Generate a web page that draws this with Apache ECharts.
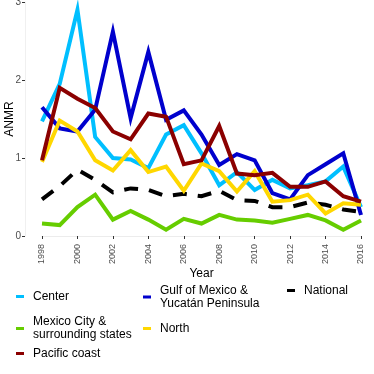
<!DOCTYPE html>
<html>
<head>
<meta charset="utf-8">
<script src="https://cdn.jsdelivr.net/npm/echarts@6/dist/echarts.min.js"></script>
<style>
  html, body { margin: 0; padding: 0; background: #fff; }
  #chart { width: 374px; height: 374px; }
</style>
</head>
<body>
<div id="chart"></div>
<script>
// 年份（横轴）
const years = [1998, 1999, 2000, 2001, 2002, 2003, 2004, 2005, 2006, 2007,
  2008, 2009, 2010, 2011, 2012, 2013, 2014, 2015, 2016];

// 各地区 ANMR 数值
const center = [1.47, 1.95, 2.9, 1.27, 1.0, 0.98, 0.87, 1.3, 1.42, 1.06,
  0.65, 0.82, 0.59, 0.72, 0.61, 0.65, 0.7, 0.89, 0.37];
const gulf = [1.65, 1.38, 1.34, 1.62, 2.62, 1.51, 2.36, 1.49, 1.61, 1.3,
  0.91, 1.05, 0.97, 0.55, 0.47, 0.78, 0.92, 1.06, 0.27];
const national = [0.47, 0.64, 0.85, 0.72, 0.56, 0.61, 0.59, 0.51, 0.54, 0.51,
  0.58, 0.46, 0.45, 0.37, 0.37, 0.43, 0.4, 0.34, 0.31];
const mexicoCity = [0.16, 0.14, 0.37, 0.53, 0.21, 0.32, 0.21, 0.08, 0.22, 0.16,
  0.27, 0.21, 0.2, 0.17, 0.22, 0.27, 0.2, 0.08, 0.2];
const north = [0.95, 1.48, 1.34, 0.97, 0.84, 1.1, 0.82, 0.89, 0.58, 0.93,
  0.83, 0.57, 0.83, 0.44, 0.46, 0.53, 0.29, 0.42, 0.4];
const pacific = [0.97, 1.9, 1.76, 1.64, 1.34, 1.24, 1.57, 1.53, 0.92, 0.97,
  1.41, 0.8, 0.78, 0.81, 0.63, 0.63, 0.7, 0.51, 0.44];

// 纵轴刻度
const yTicks = [0, 1, 2, 3];

const FONT = "Liberation Sans";

const seriesList = [
  { name: "Center", data: center, color: "#00BFFF", type: "solid" },
  { name: "Gulf of Mexico & Yucatán Peninsula", data: gulf, color: "#0000CD", type: "solid" },
  { name: "National", data: national, color: "#000000", type: [14, 11] },
  { name: "Mexico City & surrounding states", data: mexicoCity, color: "#66CD00", type: "solid" },
  { name: "North", data: north, color: "#FFD700", type: "solid" },
  { name: "Pacific coast", data: pacific, color: "#8B0000", type: "solid" },
];

// 图例换行文字
const legendText = {
  "Gulf of Mexico & Yucatán Peninsula": "Gulf of Mexico &\nYucatán Peninsula",
  "Mexico City & surrounding states": "Mexico City &\nsurrounding states",
};

// 图例位置（每个图例项单独放）
const legendPos = [
  { name: "Center", left: 16, top: 290 },
  { name: "Gulf of Mexico & Yucatán Peninsula", left: 143, top: 284 },
  { name: "National", left: 287, top: 284 },
  { name: "Mexico City & surrounding states", left: 16, top: 315.5 },
  { name: "North", left: 143, top: 322 },
  { name: "Pacific coast", left: 16, top: 347 },
];

const myChart = echarts.init(document.querySelector("#chart"));
const option = {
  backgroundColor: "#fff",
  animation: false,
  grid: { left: 42, right: 13, top: 2, bottom: 138, outerBoundsMode: "none", containLabel: false },
  xAxis: {
    type: "value",
    min: years[0],
    max: years[years.length - 1],
    interval: 2,
    offset: 4,
    name: "Year",
    nameLocation: "middle",
    nameGap: 28,
    nameMoveOverlap: false,
    nameTextStyle: { fontFamily: FONT, fontSize: 12, color: "#000" },
    axisLine: { show: true, lineStyle: { color: "#ececec", width: 1 } },
    axisTick: { show: true, length: 3, lineStyle: { color: "#333" } },
    axisLabel: {
      rotate: 90,
      margin: 4,
      fontFamily: FONT,
      fontSize: 9,
      color: "#4d4d4d",
      formatter: (v) => String(v),
    },
    splitLine: { show: false },
  },
  yAxis: {
    type: "value",
    min: yTicks[0],
    max: yTicks[yTicks.length - 1],
    interval: 1,
    offset: 17,
    name: "ANMR",
    nameLocation: "middle",
    nameGap: 9,
    nameMoveOverlap: false,
    nameTextStyle: { fontFamily: FONT, fontSize: 12, color: "#000" },
    axisLine: { show: true, lineStyle: { color: "#f0f0f0", width: 1 } },
    axisTick: { show: true, length: 3, lineStyle: { color: "#333" } },
    axisLabel: { margin: 4, fontFamily: FONT, fontSize: 10, color: "#4d4d4d" },
    splitLine: { show: false },
  },
  legend: legendPos.map((p) => ({
    data: [p.name],
    left: p.left,
    top: p.top,
    padding: 0,
    icon: "rect",
    itemWidth: 8,
    itemHeight: 3,
    selectedMode: false,
    formatter: (name) => legendText[name] || name,
    textStyle: {
      fontFamily: FONT,
      fontSize: 12,
      color: "#000",
      lineHeight: 13,
      padding: [0, 0, 0, 4],
    },
  })),
  series: seriesList.map((s) => ({
    name: s.name,
    type: "line",
    data: years.map((y, i) => [y, s.data[i]]),
    showSymbol: false,
    clip: false,
    color: s.color,
    lineStyle: { color: s.color, width: 4, type: s.type, cap: "butt", join: "miter" },
    z: s.name === "National" ? 1 : 2,
  })),
};
myChart.setOption(option);
</script>
</body>
</html>
